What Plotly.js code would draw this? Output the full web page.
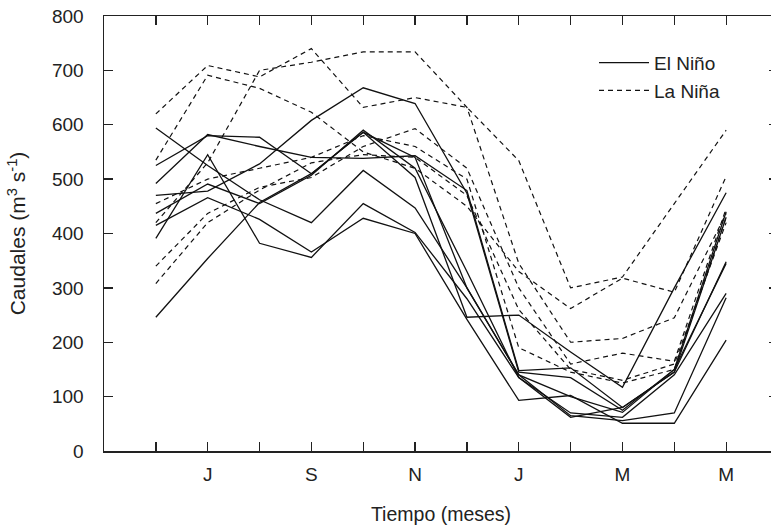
<!DOCTYPE html>
<html>
<head>
<meta charset="utf-8">
<script src="https://cdn.plot.ly/plotly-3.0.1.min.js"></script>
<style>html,body{margin:0;padding:0;overflow:hidden;background:#fff;}</style>
</head>
<body>
<div id="chart"></div>
<script>
// Months Jun..May (hydrological year)
const months = ['Jun','Jul','Aug','Sep','Oct','Nov','Dec','Jan','Feb','Mar','Apr','May'];
const monthIndex = [0,1,2,3,4,5,6,7,8,9,10,11];
const tickText = ['','J','','S','','N','','J','','M','','M'];

// El Niño years (solid)
const elNino1 = [594, 525, 462, 420, 516, 447, 300, 140, 100, 71, 150, 440];
const elNino2 = [525, 580, 577, 510, 586, 503, 246, 250, 182, 117, 300, 475];
const elNino3 = [492, 582, 560, 540, 538, 543, 479, 148, 153, 80, 145, 348];
const elNino4 = [470, 478, 528, 608, 668, 639, 474, 145, 135, 75, 150, 345];
const elNino5 = [437, 491, 455, 507, 590, 520, 330, 135, 70, 62, 140, 290];
const elNino6 = [246, 354, 457, 510, 586, 540, 300, 140, 65, 56, 70, 282];
const elNino7 = [415, 466, 426, 366, 428, 400, 242, 93, 102, 51, 51, 204];
const elNino8 = [391, 545, 382, 356, 455, 402, 280, 135, 62, 80, 145, 430];

// La Niña years (dashed)
const laNina1 = [620, 709, 688, 740, 632, 650, 632, 534, 300, 320, 455, 590];
const laNina2 = [535, 691, 667, 623, 550, 520, 450, 330, 262, 318, 292, 505];
const laNina3 = [420, 530, 700, 715, 734, 734, 632, 345, 200, 207, 245, 437];
const laNina4 = [340, 437, 485, 503, 560, 593, 520, 300, 160, 180, 165, 446];
const laNina5 = [308, 420, 480, 530, 545, 540, 470, 260, 150, 130, 160, 420];
const laNina6 = [455, 500, 520, 540, 580, 560, 500, 190, 145, 125, 150, 430];

const elNinoSeries = [elNino1, elNino2, elNino3, elNino4, elNino5, elNino6, elNino7, elNino8];
const laNinaSeries = [laNina1, laNina2, laNina3, laNina4, laNina5, laNina6];

const traces = [];
laNinaSeries.forEach((ys, i) => {
  traces.push({
    x: monthIndex, y: ys, type: 'scatter', mode: 'lines',
    name: 'La Niña', legendgroup: 'ln', showlegend: i === 0,
    line: {color: '#111', width: 1.2, dash: '5px,4px'},
    hoverinfo: 'skip'
  });
});
elNinoSeries.forEach((ys, i) => {
  traces.push({
    x: monthIndex, y: ys, type: 'scatter', mode: 'lines',
    name: 'El Niño', legendgroup: 'en', showlegend: i === 0,
    line: {color: '#111', width: 1.3},
    hoverinfo: 'skip'
  });
});

const fontFam = '"Liberation Sans", Arial, sans-serif';
const layout = {
  width: 790, height: 528,
  margin: {l: 104, r: 12, t: 16, b: 77, pad: 0},
  paper_bgcolor: '#fff', plot_bgcolor: '#fff',
  font: {family: fontFam, size: 19, color: '#222'},
  showlegend: true,
  legend: {
    x: 0.727, y: 0.936, xanchor: 'left', yanchor: 'top',
    traceorder: 'reversed', itemwidth: 50,
    bgcolor: 'rgba(0,0,0,0)', borderwidth: 0,
    font: {family: fontFam, size: 19, color: '#222'},
    tracegroupgap: 7
  },
  xaxis: {
    range: [-1, 12], tickmode: 'array', tickvals: monthIndex, ticktext: tickText,
    ticks: 'inside', ticklen: 9, tickwidth: 1.3, tickcolor: '#222',
    showline: true, linecolor: '#222', linewidth: 1.5, mirror: 'ticks',
    showgrid: false, zeroline: false, ticklabelstandoff: 6,
    tickfont: {family: fontFam, size: 19, color: '#222'},
    title: {text: 'Tiempo (meses)', standoff: 23, font: {family: fontFam, size: 19.5, color: '#222'}}
  },
  yaxis: {
    range: [0, 800], tickmode: 'array', tickvals: [0,100,200,300,400,500,600,700,800],
    ticks: 'inside', ticklen: 9, tickwidth: 1.3, tickcolor: '#222',
    showline: true, linecolor: '#222', linewidth: 1.5, mirror: 'ticks',
    showgrid: false, zeroline: false, ticklabelstandoff: 15,
    tickfont: {family: fontFam, size: 19, color: '#222'},
    title: {text: 'Caudales (m<sup>3</sup> s<sup>-1</sup>)', standoff: 20, font: {family: fontFam, size: 21, color: '#222'}}
  }
};

Plotly.newPlot('chart', traces, layout, {staticPlot: true, displayModeBar: false});
</script>
</body>
</html>
